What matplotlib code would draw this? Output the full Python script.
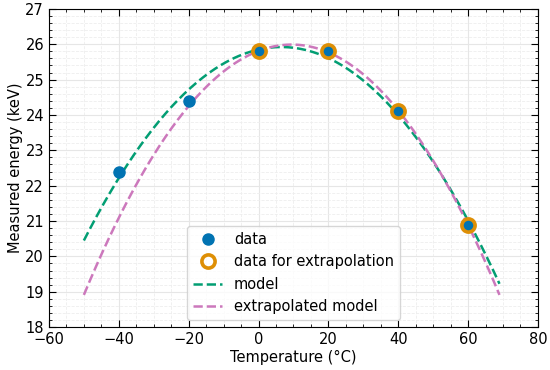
"""Quadratic model vs. extrapolated model of measured energy."""

import matplotlib
import numpy as np

matplotlib.use("Agg")
import matplotlib.pyplot as plt
from matplotlib.ticker import MultipleLocator

COLORS = {
    "blue": "#0173b2",
    "orange": "#de8f05",
    "green": "#029e73",
    "pink": "#cc78bc",
}

temperature = [-40, -20, 0, 20, 40, 60]
energy = [22.4, 24.4, 25.8, 25.8, 24.1, 20.9]
extrap_temperature = [0, 20, 40, 60]
extrap_energy = [25.8, 25.8, 24.1, 20.9]
model_range = (-50, 69)

model_coef = np.polyfit(temperature, energy, 2)
extrap_coef = np.polyfit(extrap_temperature, extrap_energy, 2)
grid_t = np.linspace(model_range[0], model_range[1], 200)

plt.rcParams["font.size"] = 10.5
figure = plt.figure(figsize=(5.5, 3.7), dpi=100)
axis = figure.add_axes([0.089, 0.116, 0.889, 0.86])

axis.plot(temperature, energy, "o", color=COLORS["blue"], markersize=8, label="data", zorder=3)
axis.plot(
    extrap_temperature,
    extrap_energy,
    "o",
    markerfacecolor="none",
    markeredgecolor=COLORS["orange"],
    markeredgewidth=2.6,
    markersize=9.5,
    label="data for extrapolation",
    zorder=4,
)
axis.plot(grid_t, np.polyval(model_coef, grid_t), "--", color=COLORS["green"], linewidth=1.8, label="model")
axis.plot(grid_t, np.polyval(extrap_coef, grid_t), "--", color=COLORS["pink"], linewidth=1.8, label="extrapolated model")

axis.set_xlim(-60, 80)
axis.set_ylim(18, 27)
axis.xaxis.set_major_locator(MultipleLocator(20))
axis.xaxis.set_minor_locator(MultipleLocator(5))
axis.yaxis.set_major_locator(MultipleLocator(1))
axis.yaxis.set_minor_locator(MultipleLocator(0.2))
axis.tick_params(which="both", direction="in", top=True, right=True)
axis.tick_params(which="major", length=5)
axis.tick_params(which="minor", length=2.5)
axis.grid(which="major", color="#e6e6e6", linewidth=0.8)
axis.grid(which="minor", color="#eeeeee", linewidth=0.6, linestyle="--")
axis.set_axisbelow(True)
axis.set_xlabel("Temperature (°C)", labelpad=2)
axis.set_ylabel("Measured energy (keV)", labelpad=2)
axis.legend(loc="lower center")

figure.savefig("out.png", dpi=100, facecolor="white")
